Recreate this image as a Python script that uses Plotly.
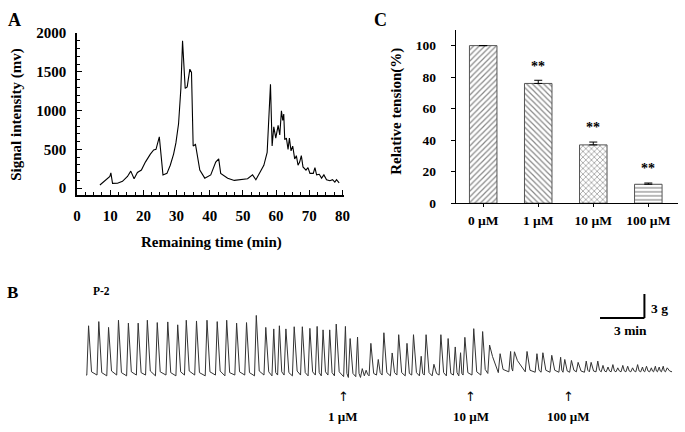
import plotly.graph_objects as go

W, H = 685, 432
FONT = "Liberation Serif"

# ---------------- Panel A data (HPLC trace) ----------------
A_time = [6.9, 8.7, 9.9, 10.2, 10.7, 12.2, 13.7, 15.2, 16.2, 17.2, 18.2, 19.4, 20.6, 22.1, 23.1,
          23.8, 24.8, 25.9, 27.1, 28.1, 29.1, 29.8, 30.6, 31.3, 31.8, 32.6, 33.2, 34.0, 34.5, 35.0,
          35.7, 37.0, 38.5, 40.3, 41.8, 42.7, 43.3, 45.4, 47.4, 51.4, 52.9, 53.9, 56.3, 57.3, 58.3,
          58.8, 59.3, 59.9, 60.6, 61.1, 61.6, 62.0, 62.3, 62.6, 63.1, 63.6, 64.0, 64.5, 65.0, 65.6,
          66.1, 66.6, 67.1, 67.6, 68.1, 69.0, 69.6, 70.2, 71.2, 71.7, 72.2, 73.0, 73.7, 74.4, 75.2,
          76.2, 77.0, 77.7, 78.2, 79.0]
A_signal = [40, 108, 149, 195, 60, 62, 87, 149, 219, 120, 202, 232, 335, 438, 492,
            500, 660, 170, 190, 294, 438, 583, 830, 1286, 1900, 1286, 1306, 1534, 1492, 542,
            562, 232, 128, 170, 335, 376, 190, 128, 99, 120, 170, 108, 294, 459, 1340,
            542, 790, 645, 810, 686, 996, 872, 955, 624, 645, 500, 645, 480, 542, 376,
            418, 294, 335, 418, 273, 232, 264, 190, 190, 264, 170, 178, 128, 170, 108,
            95, 108, 78, 108, 66]
A_xticks = [0, 10, 20, 30, 40, 50, 60, 70, 80]
A_yticks = [0, 500, 1000, 1500, 2000]

# ---------------- Panel C data (bars) ----------------
C_conc = ["0 µM", "1 µM", "10 µM", "100 µM"]
C_tension = [100, 76, 37, 12]
C_err = [0, 2.0, 1.8, 0.8]
C_sig = ["", "**", "**", "**"]
C_patterns = ["/", "\\", "x", "-"]

# ---------------- Panel B data (tension recording, min / g) ----------------
B_peak_t = [0.18, 0.87, 1.53, 2.20, 2.87, 3.53, 4.15, 4.82, 5.53, 6.20,
            6.78, 7.47, 8.18, 8.87, 9.51, 10.18, 10.85, 11.51, 12.15, 12.69,
            13.07, 13.51, 14.07, 14.62, 15.13, 15.62, 16.02, 16.47, 16.91, 17.53,
            17.85, 18.35, 18.67, 18.93, 19.25, 19.75, 20.13, 20.69, 21.13, 21.69,
            22.13, 22.65, 22.98, 23.51, 23.98, 24.47, 24.95, 25.31, 25.60, 26.20,
            26.80, 27.27, 27.98, 28.69, 28.95, 29.80, 30.47, 30.87, 31.47, 32.07,
            32.35, 32.80, 33.25, 33.80, 34.13, 34.58, 34.93, 35.27, 35.60, 35.93,
            36.27, 36.60, 36.93, 37.27, 37.60, 37.87, 38.20, 38.47, 38.73, 39.00,
            39.27]
B_peak_g = [6.24, 6.76, 6.04, 6.93, 6.57, 6.57, 6.93, 6.64, 6.72, 6.36,
            6.93, 6.84, 6.93, 6.76, 6.93, 6.57, 6.64, 7.53, 6.04, 5.85,
            6.24, 5.85, 6.12, 6.12, 5.92, 6.16, 5.73, 5.73, 6.45, 6.16,
            4.65, 4.84, 0.90, 0.70, 4.05, 2.04, 5.37, 2.85, 5.13, 4.05,
            5.13, 2.44, 5.13, 1.44, 5.13, 4.65, 3.60, 2.88, 4.80, 5.88,
            5.52, 3.84, 2.76, 3.04, 3.00, 3.04, 2.76, 2.88, 2.56, 2.32,
            2.04, 1.92, 1.68, 1.84, 1.68, 1.84, 1.30, 1.10, 1.40, 1.00,
            1.30, 1.20, 1.00, 1.40, 1.10, 1.20, 1.00, 1.20, 1.10, 1.20,
            1.00]
B_fall_g = [0.5, 0.4, 0.6, 0.4, 0.5, 0.4, 0.6, 0.5, 0.4, 0.5,
            0.6, 0.4, 0.5, 0.6, 0.4, 0.5, 0.4, 0.6, 0.5, 0.4,
            0.5, 0.4, 0.6, 0.4, 0.5, 0.4, 0.5, 0.4, 0.5, 0.3,
            0.3, 0.3, 0.2, 0.2, 0.3, 0.4, 0.4, 0.4, 0.4, 0.3,
            0.4, 0.3, 0.4, 0.3, 0.4, 0.3, 0.4, 0.3, 0.4, 0.5,
            0.8, 2.4, 0.8, 1.0, 1.9, 0.7, 0.7, 0.7, 0.7, 0.7,
            0.6, 0.7, 0.6, 0.7, 0.6, 0.7, 0.6, 0.6, 0.6, 0.6,
            0.6, 0.6, 0.6, 0.6, 0.6, 0.6, 0.6, 0.6, 0.6, 0.6,
            0.6]
B_rest_g = [0.1, 0.0, 0.1, 0.0, 0.1, 0.1, 0.0, 0.1, 0.0, 0.1,
            0.1, 0.0, 0.1, 0.0, 0.1, 0.1, 0.0, 0.1, 0.0, 0.1,
            0.1, 0.0, 0.1, 0.0, 0.1, 0.0, 0.1, 0.0, -0.1, -0.2,
            -0.1, -0.2, 0.0, 0.0, 0.1, 0.1, 0.0, 0.1, 0.0, 0.1,
            0.0, 0.1, 0.0, 0.1, 0.0, 0.1, 0.0, 0.1, 0.1, 0.1,
            0.3, 0.4, 0.5, 0.6, 0.5, 0.45, 0.45, 0.45, 0.45, 0.45,
            0.45, 0.5, 0.45, 0.5, 0.5, 0.5, 0.5, 0.5, 0.5, 0.5,
            0.5, 0.5, 0.5, 0.5, 0.5, 0.5, 0.5, 0.5, 0.5, 0.5,
            0.5]
B_dose_label = ["1 µM", "10 µM", "100 µM"]
B_dose_t = [17.4, 26.0, 32.6]
B_scale_min = 3
B_scale_g = 3

# build the recording polyline from the peak table
RISE, FALL, T_END = 0.12, 0.20, 39.6
bx, by = [0.0], [B_rest_g[0]]
prev_rest = B_rest_g[0]
for i, (t, g) in enumerate(zip(B_peak_t, B_peak_g)):
    rs = max(t - RISE, bx[-1] + 0.01)
    bx += [rs, t]
    by += [prev_rest, g]
    nxt = B_peak_t[i + 1] - RISE if i + 1 < len(B_peak_t) else T_END
    ft = min(t + FALL, (t + nxt) / 2)
    bx.append(ft)
    by.append(B_fall_g[i])
    prev_rest = B_rest_g[i]
bx.append(T_END)
by.append(prev_rest)


def px(x):
    return x / W


def py(y):
    return 1 - y / H


fig = go.Figure()

# Panel A trace
fig.add_trace(go.Scatter(x=A_time, y=A_signal, mode="lines",
                         line=dict(color="black", width=1.1),
                         xaxis="x", yaxis="y", showlegend=False))

# Panel C bars
fig.add_trace(go.Bar(x=list(range(len(C_conc))), y=C_tension, width=0.5,
                     marker=dict(color="white", line=dict(color="#555", width=1),
                                 pattern=dict(shape=C_patterns, fgcolor="#111",
                                              size=4, solidity=0.3)),
                     error_y=dict(type="data", array=C_err, arrayminus=[0] * len(C_err),
                                  symmetric=False, color="black", thickness=1, width=4),
                     xaxis="x2", yaxis="y2", showlegend=False))

# Panel B recording
fig.add_trace(go.Scatter(x=bx, y=by, mode="lines", line=dict(color="#333", width=1),
                         xaxis="x3", yaxis="y3", showlegend=False))

tf15 = dict(family=FONT, size=15, color="black", weight="bold")
tf13 = dict(family=FONT, size=13.5, color="black", weight="bold")

fig.update_layout(
    width=W, height=H, margin=dict(l=0, r=0, t=0, b=0),
    paper_bgcolor="white", plot_bgcolor="white",
    xaxis=dict(domain=[px(74), px(345)], range=[0, 80.6], tickvals=A_xticks,
               ticks="inside", ticklen=5, tickcolor="black",
               minor=dict(dtick=2.5, tick0=0, ticks="inside", ticklen=3, tickcolor="black"),
               showline=True, linecolor="black", linewidth=1.5, showgrid=False,
               zeroline=False, tickfont=tf15, ticklabelstandoff=6, anchor="y"),
    yaxis=dict(domain=[py(194), py(26)], range=[-87, 2000], tickvals=A_yticks,
               ticks="inside", ticklen=5, tickcolor="black",
               minor=dict(dtick=100, tick0=0, ticks="inside", ticklen=3, tickcolor="black"),
               showline=True, linecolor="black", linewidth=1.5, showgrid=False,
               zeroline=False, tickfont=tf15, ticklabelstandoff=6, anchor="x"),
    xaxis2=dict(domain=[px(457.7), px(683)], range=[-0.5, 3.54],
                tickvals=list(range(len(C_conc))), ticktext=C_conc,
                ticks="outside", ticklen=3, tickcolor="black",
                showline=True, linecolor="black", linewidth=1, showgrid=False,
                zeroline=False, tickfont=tf13, ticklabelstandoff=2, anchor="y2"),
    yaxis2=dict(domain=[py(202.7), py(22.7)], range=[0, 110], dtick=20, tick0=0,
                ticks="outside", ticklen=4, tickcolor="black",
                showline=True, linecolor="black", linewidth=1, showgrid=False,
                zeroline=False, tickfont=tf13, ticklabelstandoff=12, anchor="x2"),
    xaxis3=dict(domain=[px(83), px(677)], range=[0, T_END], visible=False, anchor="y3"),
    yaxis3=dict(domain=[py(392), py(290)], range=[-1.2, 11.04], visible=False, anchor="x3"),
)

ann = []


def label(text, x, y, size, angle=0, xref="paper", yref="paper"):
    ann.append(dict(text="<b>%s</b>" % text, x=x, y=y, xref=xref, yref=yref,
                    showarrow=False, textangle=angle, xanchor="center", yanchor="middle",
                    font=dict(family=FONT, size=size, color="black")))


label("A", px(11), py(12), 18)
label("Signal intensity (mv)", px(13), py(110), 15, -90)
label("Remaining time (min)", px(210), py(243), 15)
label("C", px(382), py(12), 18)
label("Relative tension(%)", px(397), py(107), 15, -90)
label("B", px(9), py(295), 17)
label("P-2", px(99), py(294), 11.5)

for i, s in enumerate(C_sig):
    if s:
        label(s, i, C_tension[i] + C_err[i] + 9, 14, xref="x2", yref="y2")

for t, d in zip(B_dose_t, B_dose_label):
    ann.append(dict(text="↑", x=t, y=py(403), xref="x3", yref="paper", showarrow=False,
                    xanchor="center", yanchor="middle",
                    font=dict(family="DejaVu Sans", size=13, color="black")))
    label(d, t, py(424), 13, xref="x3")

# scale bar (3 min x 3 g) in recording coordinates
sb_x1, sb_y0 = 37.73, 7.2
fig.add_shape(type="line", xref="x3", yref="y3", x0=sb_x1 - B_scale_min, x1=sb_x1,
              y0=sb_y0, y1=sb_y0, line=dict(color="black", width=2))
fig.add_shape(type="line", xref="x3", yref="y3", x0=sb_x1, x1=sb_x1,
              y0=sb_y0, y1=sb_y0 + B_scale_g, line=dict(color="black", width=2))
label("%d g" % B_scale_g, sb_x1 + 1.05, sb_y0 + 1.2, 13.5, xref="x3", yref="y3")
label("%d min" % B_scale_min, sb_x1 - 0.95, sb_y0 - 1.5, 13.5, xref="x3", yref="y3")

fig.update_layout(annotations=ann)
fig.write_html("out.html", config={"displayModeBar": False},
               post_script="document.body.style.margin='0';document.body.style.overflow='hidden';")
